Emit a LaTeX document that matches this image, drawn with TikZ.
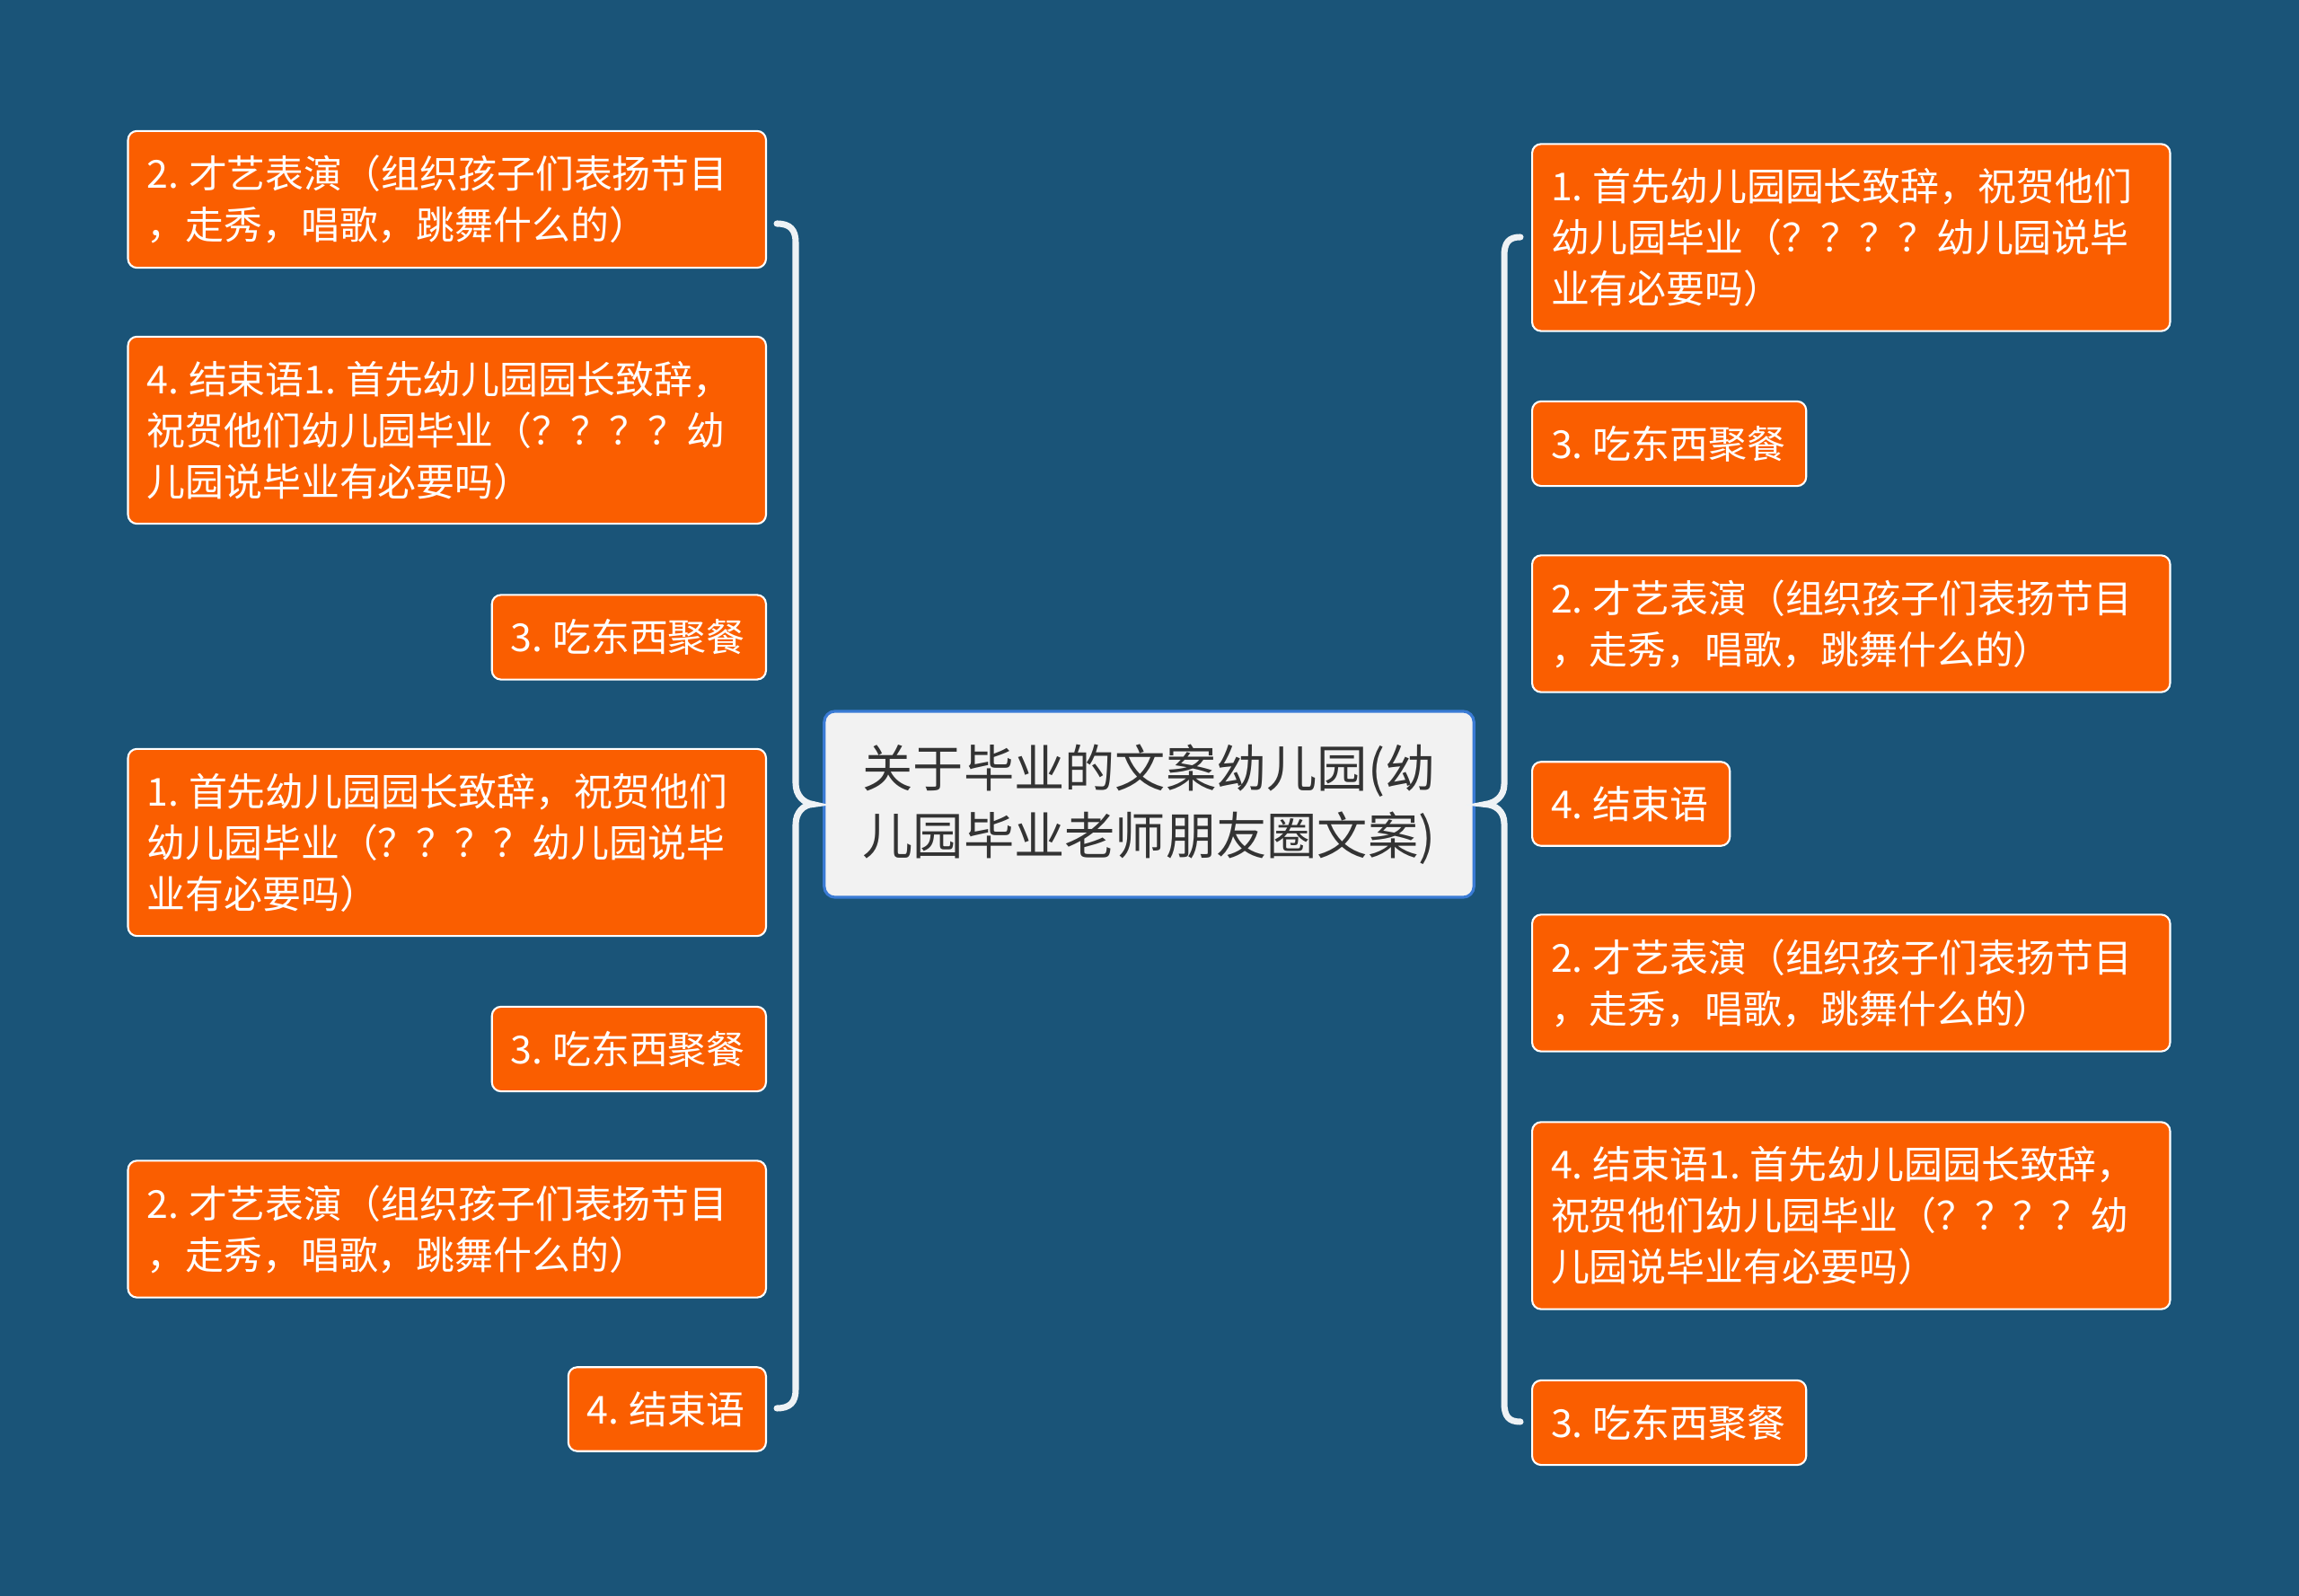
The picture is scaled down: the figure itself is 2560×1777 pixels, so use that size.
\documentclass[tikz,border=0pt]{standalone}
\usepackage{fontspec}
\setmainfont{Noto Sans CJK SC}
\usepackage{tikz}
\usetikzlibrary{positioning}

\definecolor{bgblue}{RGB}{26,84,120}
\definecolor{leaforange}{RGB}{250,94,0}
\definecolor{rootfill}{RGB}{242,242,242}
\definecolor{rootline}{RGB}{58,123,213}
\definecolor{braceline}{RGB}{238,242,245}
\definecolor{roottext}{RGB}{51,51,51}

% small gap after the item number
\newcommand{\numgap}{\hspace{0.25em}}

\tikzset{
  leaf/.style={draw=white, line width=0.6pt, fill=leaforange, rounded corners=0.1cm,
    text=white, align=left, inner xsep=0.21cm, inner ysep=0.27cm,
    font=\fontsize{12.2}{16.2}\selectfont},
  rootbox/.style={draw=rootline, line width=0.9pt, fill=rootfill, rounded corners=0.12cm,
    text=roottext, align=center, text width=6.55cm, inner xsep=0.34cm,
    minimum height=2.07cm, font=\fontsize{16}{21.3}\selectfont},
  brace/.style={draw=braceline, line width=2pt, line cap=round}
}

\begin{document}
\begin{tikzpicture}[x=0.01cm, y=-0.01cm]
		% ===== Background =====
		\fill[bgblue] (0,0) rectangle (2560,1777);
		\useasboundingbox (0,0) rectangle (2560,1777);
		% ===== Root topic =====
		\node[rootbox] (root) at (1279.5,895.5) {关于毕业的文案幼儿园(幼\\儿园毕业老师朋友圈文案)};
		% ===== Left branch =====
		\foreach \y/\w/\txt [count=\i] in {
			222/6.68/{2.\numgap 才艺表演（组织孩子们表扬节目\\，走秀，唱歌，跳舞什么的）},
			479/6.68/{4.\numgap 结束语1.\numgap 首先幼儿园园长致辞，\\祝贺他们幼儿园毕业（？？？？幼\\儿园说毕业有必要吗）},
			709.5/2.63/{3.\numgap 吃东西聚餐},
			938/6.68/{1.\numgap 首先幼儿园园长致辞，祝贺他们\\幼儿园毕业（？？？？幼儿园说毕\\业有必要吗）},
			1168/2.63/{3.\numgap 吃东西聚餐},
			1368.5/6.68/{2.\numgap 才艺表演（组织孩子们表扬节目\\，走秀，唱歌，跳舞什么的）},
			1569/1.78/{4.\numgap 结束语}} {
			\node[leaf, text width=\w cm, anchor=east] (l\i) at (854,\y) {\txt};
		}
		% ===== Right branch =====
		\foreach \y/\w/\txt [count=\i] in {
			264.5/6.68/{1.\numgap 首先幼儿园园长致辞，祝贺他们\\幼儿园毕业（？？？？幼儿园说毕\\业有必要吗）},
			494/2.63/{3.\numgap 吃东西聚餐},
			694.5/6.68/{2.\numgap 才艺表演（组织孩子们表扬节目\\，走秀，唱歌，跳舞什么的）},
			895/1.78/{4.\numgap 结束语},
			1094.5/6.68/{2.\numgap 才艺表演（组织孩子们表扬节目\\，走秀，唱歌，跳舞什么的）},
			1353.5/6.68/{4.\numgap 结束语1.\numgap 首先幼儿园园长致辞，\\祝贺他们幼儿园毕业（？？？？幼\\儿园说毕业有必要吗）},
			1584/2.63/{3.\numgap 吃东西聚餐}} {
			\node[leaf, text width=\w cm, anchor=west] (r\i) at (1705,\y) {\txt};
		}
		% ===== Braces from root to both branches =====
		\coordinate (ltop) at (865,249);
		\coordinate (lbot) at (865,1568);
		\coordinate (lcusp) at ([xshift=-0.11cm]root.west);
		\coordinate (rtop) at (1693,264);
		\coordinate (rbot) at (1693,1583);
		\coordinate (rcusp) at ([xshift=0.11cm]root.east);
		\draw[brace] (ltop) .. controls (880,249) and (886,256) .. (886,270) -- (886,872)
			.. controls (886,886) and (895,894) .. (lcusp)
			.. controls (895,896) and (886,904) .. (886,918) -- (886,1547)
			.. controls (886,1561) and (880,1568) .. (lbot);
		\draw[brace] (rtop) .. controls (1680,264) and (1675,270) .. (1675,285) -- (1675,873)
			.. controls (1675,887) and (1665,894) .. (rcusp)
			.. controls (1665,896) and (1675,903) .. (1675,917) -- (1675,1562)
			.. controls (1675,1577) and (1680,1583) .. (rbot);
	\end{tikzpicture}
\end{document}
